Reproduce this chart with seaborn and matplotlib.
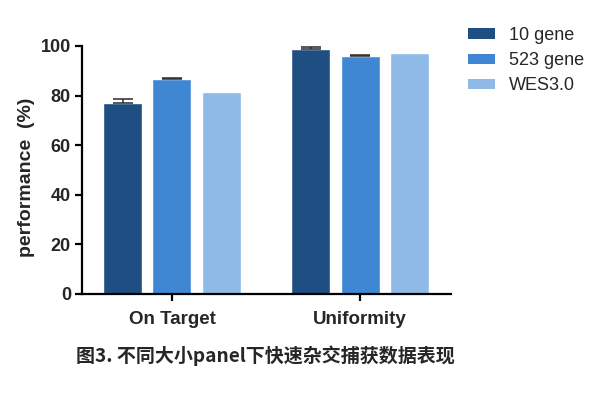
import pandas as pd
import numpy as np
import matplotlib
matplotlib.use('Agg')
import matplotlib.pyplot as plt
import seaborn as sns
from matplotlib.patches import Patch

# data
groups = ['On Target', 'Uniformity']
series = ['10 gene', '523 gene', 'WES3.0']
vals_10 = [76.9, 98.8]
vals_523 = [86.8, 96.1]
vals_wes = [81.5, 97.0]
err_10 = [1.6, 0.8]
err_523 = [0.4, 0.3]
err_wes = [0.0, 0.0]

colors = ['#1f4e82', '#3f87d3', '#8fb9e6']

df = pd.DataFrame({
    'group': groups * 3,
    'series': [s for s in series for _ in groups],
    'value': vals_10 + vals_523 + vals_wes,
})
errs = [err_10, err_523, err_wes]

sns.set_style('ticks')
plt.rcParams['font.family'] = ['Liberation Sans', 'Noto Sans CJK SC', 'DejaVu Sans']

fig = plt.figure(figsize=(6, 3.94), dpi=100)
ax = fig.add_axes([82/600, 100/394, 369/600, 248/394])

sns.barplot(data=df, x='group', y='value', hue='series', palette=colors,
            width=0.786, gap=0.21, ax=ax, legend=False, errorbar=None,
            saturation=1)

# error bars (upper side only, like the original)
for cont, e in zip(ax.containers, errs):
    for bar, ev in zip(cont, e):
        if ev > 0:
            xc = bar.get_x() + bar.get_width() / 2
            ax.errorbar(xc, bar.get_height(), yerr=[[0], [ev]], fmt='none',
                        ecolor='#2a2a2a', elinewidth=1.1, capsize=7, capthick=1.1)

ax.set_xlim(-0.478, 1.483)
ax.set_ylim(0, 100)
ax.set_yticks([0, 20, 40, 60, 80, 100])
sns.despine(ax=ax)
for sp in ['left', 'bottom']:
    ax.spines[sp].set_linewidth(1.6)
    ax.spines[sp].set_color('black')
ax.tick_params(axis='both', width=1.6, length=5, color='black')
ax.tick_params(axis='x', pad=7)
ax.tick_params(axis='y', pad=3)
for lab in ax.get_yticklabels():
    lab.set_fontsize(13)
    lab.set_fontweight('bold')
for lab in ax.get_xticklabels():
    lab.set_fontsize(13.5)
    lab.set_fontweight('bold')
ax.set_xlabel('')
ax.set_ylabel('performance  (%)', fontsize=14, fontweight='bold')
ax.yaxis.set_label_coords(-0.128, 0.472)

handles = [Patch(facecolor=c, edgecolor='none') for c in colors]
fig.legend(handles, series, loc='upper left', bbox_to_anchor=(468/600, 1 - 27/394),
           frameon=False, fontsize=13, handlelength=1.5, handleheight=0.5,
           handletextpad=0.75, labelspacing=0.45, borderpad=0, borderaxespad=0)

fig.text(0.4425, 1 - 356/394, '图3. 不同大小panel下快速杂交捕获数据表现',
         ha='center', va='center', fontsize=13.7, fontweight='bold',
         family=['Noto Sans CJK SC', 'DejaVu Sans'])

fig.savefig('out.png', dpi=100, facecolor='white')
